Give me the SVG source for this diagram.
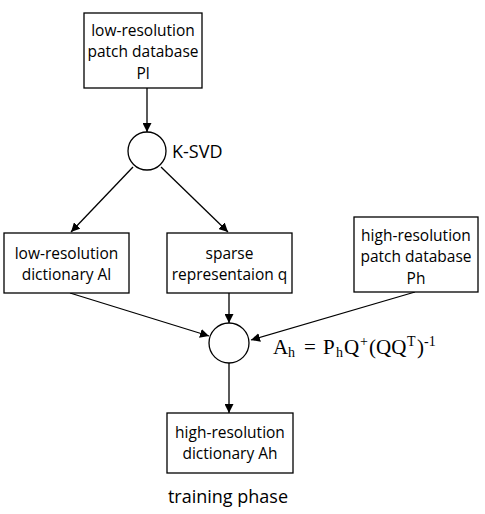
<svg xmlns="http://www.w3.org/2000/svg" width="485" height="514" viewBox="0 0 485 514">
<defs>
<marker id="arr" viewBox="0 0 10 10" refX="10" refY="5" markerWidth="9" markerHeight="9" markerUnits="userSpaceOnUse" orient="auto">
<path d="M0,0 L10,5 L0,10 z" fill="#000"/>
</marker>
<style>
.box{fill:#fff;stroke:#000;stroke-width:1.3}
.t{font-family:"Open Sans","Liberation Sans",Arial,sans-serif;font-size:15.5px;fill:#000;text-anchor:middle}
.lbl{font-family:"Open Sans","Liberation Sans",Arial,sans-serif;font-size:18px;fill:#000}
.math{font-family:"Liberation Serif","Times New Roman",serif;font-size:21px;fill:#000}
.sub{font-size:14px}
.c{stroke:#000;stroke-width:1.3;fill:none;marker-end:url(#arr)}
</style>
</defs>
<rect width="485" height="514" fill="#fff"/>
<g id="connectors">
<line class="c" x1="147" y1="88" x2="147" y2="132"/>
<line class="c" x1="133" y1="167" x2="71" y2="232"/>
<line class="c" x1="161" y1="167" x2="228" y2="232"/>
<line class="c" x1="70" y1="293" x2="209" y2="336"/>
<line class="c" x1="229" y1="293" x2="229" y2="323"/>
<line class="c" x1="415" y1="292" x2="251" y2="340"/>
<line class="c" x1="229" y1="363" x2="229" y2="413"/>
</g>
<g id="lr-patch-db">
<rect class="box" x="84" y="13" width="118" height="75"/>
<text class="t" x="143" y="36">low-resolution</text>
<text class="t" x="143" y="57">patch database</text>
<text class="t" x="143" y="79">Pl</text>
</g>
<g id="ksvd">
<circle cx="147" cy="151" r="19" fill="#fff" stroke="#000" stroke-width="1.3"/>
<text class="lbl" x="172" y="158">K-SVD</text>
</g>
<g id="lr-dict">
<rect class="box" x="4" y="233" width="125" height="60"/>
<text class="t" x="66.5" y="259">low-resolution</text>
<text class="t" x="66.5" y="280">dictionary Al</text>
</g>
<g id="sparse">
<rect class="box" x="167" y="233" width="125" height="60"/>
<text class="t" x="229.5" y="259">sparse</text>
<text class="t" x="229.5" y="280">representaion q</text>
</g>
<g id="hr-patch-db">
<rect class="box" x="354" y="217" width="124" height="75"/>
<text class="t" x="416" y="241">high-resolution</text>
<text class="t" x="416" y="262">patch database</text>
<text class="t" x="416" y="284">Ph</text>
</g>
<g id="combine">
<circle cx="229" cy="343" r="20" fill="#fff" stroke="#000" stroke-width="1.3"/>
<text class="math" y="354"><tspan x="273">A</tspan><tspan class="sub" x="288" y="357">h</tspan><tspan x="304" y="354">=</tspan><tspan x="323">P</tspan><tspan class="sub" x="336" y="357">h</tspan><tspan x="344" y="354">Q</tspan><tspan class="sub" x="360" y="346">+</tspan><tspan x="369" y="354">(QQ</tspan><tspan class="sub" x="407" y="346">T</tspan><tspan x="417" y="354">)</tspan><tspan class="sub" x="424" y="346">-1</tspan></text>
</g>
<g id="hr-dict">
<rect class="box" x="167" y="413" width="126" height="60"/>
<text class="t" x="230" y="438">high-resolution</text>
<text class="t" x="230" y="459">dictionary Ah</text>
</g>
<g id="caption">
<text class="lbl" x="228" y="503" text-anchor="middle">training phase</text>
</g>
</svg>
